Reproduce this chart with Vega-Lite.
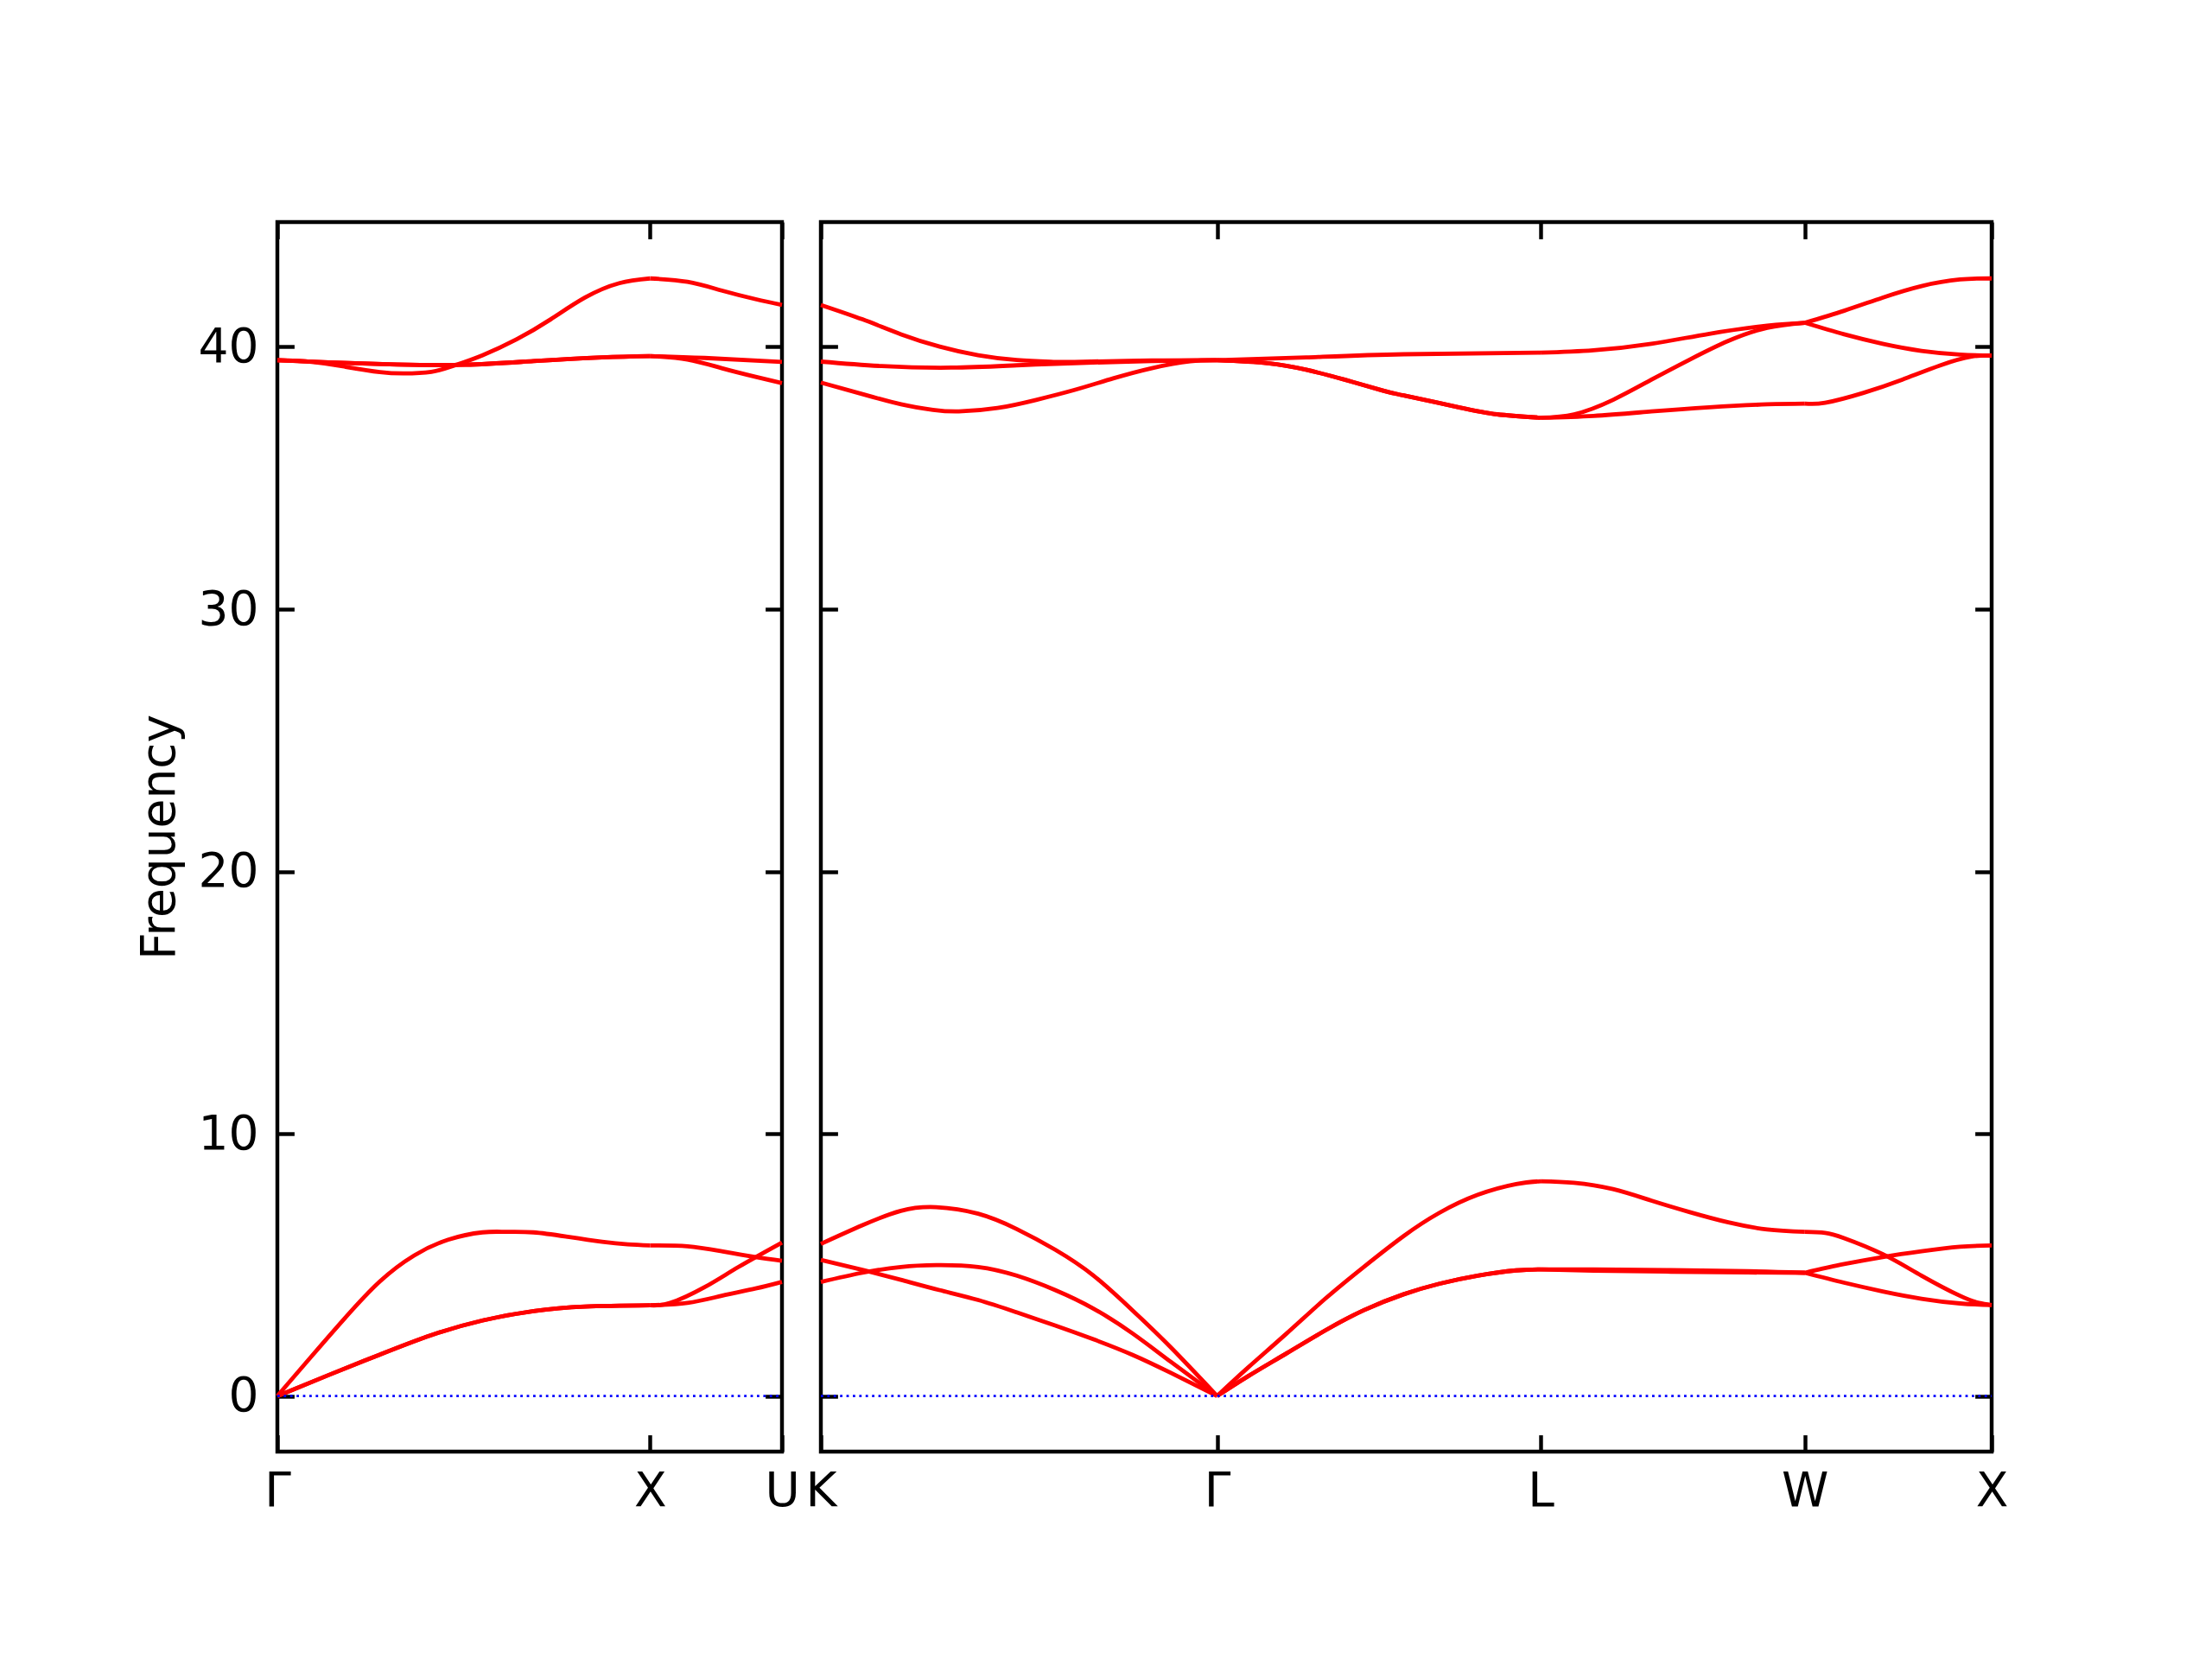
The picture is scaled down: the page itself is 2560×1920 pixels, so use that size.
{
  "$schema": "https://vega.github.io/schema/vega-lite/v6.json",
  "background": "white",
  "autosize": {"type": "pad"},
  "padding": {"left": 154, "top": 252, "right": 40, "bottom": 40},
  "bounds": "flush",
  "spacing": 45,
  "config": {
    "view": {"stroke": "black", "strokeWidth": 4.44},
    "axis": {
      "grid": false, "domain": false,
      "tickColor": "black", "tickWidth": 4.44, "tickSize": -19.4,
      "labelFont": "DejaVu Sans", "labelFontSize": 55, "labelColor": "black",
      "titleFont": "DejaVu Sans", "titleFontSize": 55, "titleFontWeight": "normal", "titleColor": "black",
      "labelFlush": false, "labelOverlap": false, "labelBound": false
    }
  },
  "datasets": {
    "left": [
      {"b":"GX_LA","k":0,"f":0},{"b":"GX_LA","k":0.092,"f":1.52},{"b":"GX_LA","k":0.183,"f":3.0},{"b":"GX_LA","k":0.275,"f":4.37},{"b":"GX_LA","k":0.367,"f":5.36},{"b":"GX_LA","k":0.458,"f":5.96},{"b":"GX_LA","k":0.55,"f":6.24},{"b":"GX_LA","k":0.614,"f":6.26},{"b":"GX_LA","k":0.687,"f":6.24},{"b":"GX_LA","k":0.779,"f":6.07},{"b":"GX_LA","k":0.871,"f":5.88},{"b":"GX_LA","k":0.94,"f":5.78},{"b":"GX_LA","k":1,"f":5.74},
      {"b":"GX_TA1","k":0,"f":0},{"b":"GX_TA1","k":0.1375,"f":0.8},{"b":"GX_TA1","k":0.275,"f":1.58},{"b":"GX_TA1","k":0.4125,"f":2.32},{"b":"GX_TA1","k":0.55,"f":2.88},{"b":"GX_TA1","k":0.6875,"f":3.24},{"b":"GX_TA1","k":0.825,"f":3.41},{"b":"GX_TA1","k":1,"f":3.46},
      {"b":"GX_TA2","k":0,"f":0},{"b":"GX_TA2","k":0.1375,"f":0.8},{"b":"GX_TA2","k":0.275,"f":1.58},{"b":"GX_TA2","k":0.4125,"f":2.32},{"b":"GX_TA2","k":0.55,"f":2.88},{"b":"GX_TA2","k":0.6875,"f":3.24},{"b":"GX_TA2","k":0.825,"f":3.41},{"b":"GX_TA2","k":1,"f":3.46},
      {"b":"GX_TO1","k":0,"f":39.49},{"b":"GX_TO1","k":0.1375,"f":39.41},{"b":"GX_TO1","k":0.321,"f":39.33},{"b":"GX_TO1","k":0.504,"f":39.32},{"b":"GX_TO1","k":0.687,"f":39.46},{"b":"GX_TO1","k":0.871,"f":39.6},{"b":"GX_TO1","k":1,"f":39.65},
      {"b":"GX_TO2","k":0,"f":39.49},{"b":"GX_TO2","k":0.1375,"f":39.41},{"b":"GX_TO2","k":0.321,"f":39.33},{"b":"GX_TO2","k":0.504,"f":39.32},{"b":"GX_TO2","k":0.687,"f":39.46},{"b":"GX_TO2","k":0.871,"f":39.6},{"b":"GX_TO2","k":1,"f":39.65},
      {"b":"GX_LO","k":0,"f":39.49},{"b":"GX_LO","k":0.092,"f":39.43},{"b":"GX_LO","k":0.183,"f":39.24},{"b":"GX_LO","k":0.275,"f":39.04},{"b":"GX_LO","k":0.339,"f":38.99},{"b":"GX_LO","k":0.413,"f":39.05},{"b":"GX_LO","k":0.477,"f":39.3},{"b":"GX_LO","k":0.55,"f":39.68},{"b":"GX_LO","k":0.642,"f":40.29},{"b":"GX_LO","k":0.733,"f":41.05},{"b":"GX_LO","k":0.825,"f":41.88},{"b":"GX_LO","k":0.917,"f":42.43},{"b":"GX_LO","k":1,"f":42.61},
      {"b":"XU_LA","k":1,"f":5.74},{"b":"XU_LA","k":1.1,"f":5.71},{"b":"XU_LA","k":1.192,"f":5.52},{"b":"XU_LA","k":1.283,"f":5.3},{"b":"XU_LA","k":1.3536,"f":5.16},
      {"b":"XU_TAu","k":1,"f":3.46},{"b":"XU_TAu","k":1.054,"f":3.55},{"b":"XU_TAu","k":1.146,"f":4.15},{"b":"XU_TAu","k":1.237,"f":4.92},{"b":"XU_TAu","k":1.3536,"f":5.85},
      {"b":"XU_TAl","k":1,"f":3.46},{"b":"XU_TAl","k":1.1,"f":3.55},{"b":"XU_TAl","k":1.192,"f":3.82},{"b":"XU_TAl","k":1.283,"f":4.1},{"b":"XU_TAl","k":1.3536,"f":4.35},
      {"b":"XU_TOu","k":1,"f":39.65},{"b":"XU_TOu","k":1.146,"f":39.58},{"b":"XU_TOu","k":1.3536,"f":39.43},
      {"b":"XU_TOl","k":1,"f":39.65},{"b":"XU_TOl","k":1.1,"f":39.52},{"b":"XU_TOl","k":1.192,"f":39.19},{"b":"XU_TOl","k":1.283,"f":38.86},{"b":"XU_TOl","k":1.3536,"f":38.62},
      {"b":"XU_LO","k":1,"f":42.61},{"b":"XU_LO","k":1.1,"f":42.48},{"b":"XU_LO","k":1.192,"f":42.15},{"b":"XU_LO","k":1.283,"f":41.82},{"b":"XU_LO","k":1.3536,"f":41.6}
    ],
    "right": [
      {"b":"KG_1","k":0,"f":5.8},{"b":"KG_1","k":0.111,"f":6.51},{"b":"KG_1","k":0.214,"f":7.06},{"b":"KG_1","k":0.309,"f":7.2},{"b":"KG_1","k":0.421,"f":6.95},{"b":"KG_1","k":0.524,"f":6.37},{"b":"KG_1","k":0.627,"f":5.58},{"b":"KG_1","k":0.73,"f":4.59},{"b":"KG_1","k":0.834,"f":3.27},{"b":"KG_1","k":0.937,"f":1.85},{"b":"KG_1","k":1.0607,"f":0},
      {"b":"KG_2","k":0,"f":4.35},{"b":"KG_2","k":0.111,"f":4.7},{"b":"KG_2","k":0.214,"f":4.92},{"b":"KG_2","k":0.309,"f":4.99},{"b":"KG_2","k":0.421,"f":4.92},{"b":"KG_2","k":0.524,"f":4.59},{"b":"KG_2","k":0.627,"f":4.04},{"b":"KG_2","k":0.73,"f":3.33},{"b":"KG_2","k":0.834,"f":2.39},{"b":"KG_2","k":0.937,"f":1.3},{"b":"KG_2","k":1.0607,"f":0},
      {"b":"KG_3","k":0,"f":5.19},{"b":"KG_3","k":0.111,"f":4.81},{"b":"KG_3","k":0.214,"f":4.43},{"b":"KG_3","k":0.317,"f":4.04},{"b":"KG_3","k":0.421,"f":3.66},{"b":"KG_3","k":0.524,"f":3.19},{"b":"KG_3","k":0.627,"f":2.69},{"b":"KG_3","k":0.73,"f":2.16},{"b":"KG_3","k":0.834,"f":1.57},{"b":"KG_3","k":0.937,"f":0.88},{"b":"KG_3","k":1.0607,"f":0},
      {"b":"KG_A","k":0,"f":41.6},{"b":"KG_A","k":0.1115,"f":41.05},{"b":"KG_A","k":0.2147,"f":40.48},{"b":"KG_A","k":0.318,"f":40.01},{"b":"KG_A","k":0.421,"f":39.68},{"b":"KG_A","k":0.5245,"f":39.5},{"b":"KG_A","k":0.628,"f":39.43},{"b":"KG_A","k":0.679,"f":39.43},{"b":"KG_A","k":0.886,"f":39.48},{"b":"KG_A","k":1.0607,"f":39.49},
      {"b":"KG_B","k":0,"f":39.44},{"b":"KG_B","k":0.1631,"f":39.27},{"b":"KG_B","k":0.349,"f":39.21},{"b":"KG_B","k":0.5245,"f":39.3},{"b":"KG_B","k":0.679,"f":39.38},{"b":"KG_B","k":0.886,"f":39.46},{"b":"KG_B","k":1.0607,"f":39.49},
      {"b":"KG_C","k":0,"f":38.64},{"b":"KG_C","k":0.1115,"f":38.2},{"b":"KG_C","k":0.2147,"f":37.81},{"b":"KG_C","k":0.3,"f":37.6},{"b":"KG_C","k":0.3696,"f":37.54},{"b":"KG_C","k":0.4729,"f":37.67},{"b":"KG_C","k":0.5761,"f":37.98},{"b":"KG_C","k":0.679,"f":38.36},{"b":"KG_C","k":0.7826,"f":38.8},{"b":"KG_C","k":0.886,"f":39.19},{"b":"KG_C","k":0.9891,"f":39.45},{"b":"KG_C","k":1.0607,"f":39.49},
      {"b":"GL_U1","k":1.0607,"f":39.49},{"b":"GL_U1","k":1.299,"f":39.6},{"b":"GL_U1","k":1.56,"f":39.72},{"b":"GL_U1","k":1.9267,"f":39.78},
      {"b":"GL_U2","k":1.0607,"f":39.49},{"b":"GL_U2","k":1.196,"f":39.38},{"b":"GL_U2","k":1.299,"f":39.13},{"b":"GL_U2","k":1.402,"f":38.75},{"b":"GL_U2","k":1.505,"f":38.33},{"b":"GL_U2","k":1.56,"f":38.15},{"b":"GL_U2","k":1.707,"f":37.7},{"b":"GL_U2","k":1.81,"f":37.43},{"b":"GL_U2","k":1.9267,"f":37.3},
      {"b":"GL_U3","k":1.0607,"f":39.49},{"b":"GL_U3","k":1.196,"f":39.38},{"b":"GL_U3","k":1.299,"f":39.13},{"b":"GL_U3","k":1.402,"f":38.75},{"b":"GL_U3","k":1.505,"f":38.33},{"b":"GL_U3","k":1.56,"f":38.15},{"b":"GL_U3","k":1.707,"f":37.7},{"b":"GL_U3","k":1.81,"f":37.43},{"b":"GL_U3","k":1.9267,"f":37.3},
      {"b":"GL_1","k":1.0607,"f":0},{"b":"GL_1","k":1.143,"f":1.08},{"b":"GL_1","k":1.247,"f":2.39},{"b":"GL_1","k":1.35,"f":3.71},{"b":"GL_1","k":1.453,"f":4.92},{"b":"GL_1","k":1.56,"f":6.1},{"b":"GL_1","k":1.655,"f":6.98},{"b":"GL_1","k":1.758,"f":7.67},{"b":"GL_1","k":1.861,"f":8.08},{"b":"GL_1","k":1.9267,"f":8.19},
      {"b":"GL_2","k":1.0607,"f":0},{"b":"GL_2","k":1.143,"f":0.75},{"b":"GL_2","k":1.247,"f":1.63},{"b":"GL_2","k":1.35,"f":2.5},{"b":"GL_2","k":1.453,"f":3.27},{"b":"GL_2","k":1.56,"f":3.88},{"b":"GL_2","k":1.655,"f":4.28},{"b":"GL_2","k":1.758,"f":4.59},{"b":"GL_2","k":1.861,"f":4.79},{"b":"GL_2","k":1.9267,"f":4.83},
      {"b":"GL_3","k":1.0607,"f":0},{"b":"GL_3","k":1.143,"f":0.75},{"b":"GL_3","k":1.247,"f":1.63},{"b":"GL_3","k":1.35,"f":2.5},{"b":"GL_3","k":1.453,"f":3.27},{"b":"GL_3","k":1.56,"f":3.88},{"b":"GL_3","k":1.655,"f":4.28},{"b":"GL_3","k":1.758,"f":4.59},{"b":"GL_3","k":1.861,"f":4.79},{"b":"GL_3","k":1.9267,"f":4.83},
      {"b":"LW_top","k":1.9267,"f":39.78},{"b":"LW_top","k":2.068,"f":39.87},{"b":"LW_top","k":2.223,"f":40.12},{"b":"LW_top","k":2.378,"f":40.5},{"b":"LW_top","k":2.533,"f":40.81},{"b":"LW_top","k":2.6338,"f":40.92},
      {"b":"LW_mid","k":1.9267,"f":37.3},{"b":"LW_mid","k":2.016,"f":37.43},{"b":"LW_mid","k":2.12,"f":37.98},{"b":"LW_mid","k":2.223,"f":38.75},{"b":"LW_mid","k":2.326,"f":39.52},{"b":"LW_mid","k":2.429,"f":40.23},{"b":"LW_mid","k":2.533,"f":40.73},{"b":"LW_mid","k":2.6338,"f":40.92},
      {"b":"LW_bot","k":1.9267,"f":37.3},{"b":"LW_bot","k":2.068,"f":37.37},{"b":"LW_bot","k":2.223,"f":37.54},{"b":"LW_bot","k":2.378,"f":37.7},{"b":"LW_bot","k":2.533,"f":37.81},{"b":"LW_bot","k":2.6338,"f":37.84},
      {"b":"LW_1","k":1.9267,"f":8.19},{"b":"LW_1","k":2.016,"f":8.13},{"b":"LW_1","k":2.12,"f":7.89},{"b":"LW_1","k":2.223,"f":7.45},{"b":"LW_1","k":2.326,"f":7.01},{"b":"LW_1","k":2.429,"f":6.62},{"b":"LW_1","k":2.533,"f":6.35},{"b":"LW_1","k":2.6338,"f":6.26},
      {"b":"LW_2","k":1.9267,"f":4.83},{"b":"LW_2","k":2.068,"f":4.83},{"b":"LW_2","k":2.2745,"f":4.8},{"b":"LW_2","k":2.481,"f":4.76},{"b":"LW_2","k":2.6338,"f":4.7},
      {"b":"LW_3","k":1.9267,"f":4.83},{"b":"LW_3","k":2.068,"f":4.78},{"b":"LW_3","k":2.2745,"f":4.74},{"b":"LW_3","k":2.481,"f":4.71},{"b":"LW_3","k":2.6338,"f":4.7},
      {"b":"WX_top","k":2.6338,"f":40.92},{"b":"WX_top","k":2.739,"f":41.38},{"b":"WX_top","k":2.842,"f":41.88},{"b":"WX_top","k":2.946,"f":42.32},{"b":"WX_top","k":3.049,"f":42.57},{"b":"WX_top","k":3.1338,"f":42.61},
      {"b":"WX_mid","k":2.6338,"f":40.92},{"b":"WX_mid","k":2.739,"f":40.48},{"b":"WX_mid","k":2.842,"f":40.12},{"b":"WX_mid","k":2.946,"f":39.85},{"b":"WX_mid","k":3.049,"f":39.71},{"b":"WX_mid","k":3.1338,"f":39.67},
      {"b":"WX_bot","k":2.6338,"f":37.84},{"b":"WX_bot","k":2.688,"f":37.87},{"b":"WX_bot","k":2.791,"f":38.25},{"b":"WX_bot","k":2.894,"f":38.75},{"b":"WX_bot","k":2.997,"f":39.3},{"b":"WX_bot","k":3.08,"f":39.63},{"b":"WX_bot","k":3.1338,"f":39.67},
      {"b":"WX_1","k":2.6338,"f":6.26},{"b":"WX_1","k":2.688,"f":6.22},{"b":"WX_1","k":2.739,"f":6.02},{"b":"WX_1","k":2.842,"f":5.41},{"b":"WX_1","k":2.946,"f":4.59},{"b":"WX_1","k":3.049,"f":3.82},{"b":"WX_1","k":3.1,"f":3.55},{"b":"WX_1","k":3.1338,"f":3.47},
      {"b":"WX_2","k":2.6338,"f":4.7},{"b":"WX_2","k":2.739,"f":5.03},{"b":"WX_2","k":2.842,"f":5.3},{"b":"WX_2","k":2.946,"f":5.52},{"b":"WX_2","k":3.049,"f":5.69},{"b":"WX_2","k":3.1338,"f":5.74},
      {"b":"WX_3","k":2.6338,"f":4.7},{"b":"WX_3","k":2.739,"f":4.32},{"b":"WX_3","k":2.842,"f":3.99},{"b":"WX_3","k":2.946,"f":3.71},{"b":"WX_3","k":3.049,"f":3.53},{"b":"WX_3","k":3.1338,"f":3.47}
    ]
  },
  "hconcat": [
    {
      "width": 584, "height": 1423,
      "data": {"name": "left"},
      "resolve": {"axis": {"x": "independent", "y": "independent"}},
      "layer": [
        {
          "mark": {"type": "line", "color": "#ff0000", "strokeWidth": 4.8, "interpolate": "natural"},
          "encoding": {
            "x": {"field": "k", "type": "quantitative", "scale": {"domain": [0, 1.3536], "nice": false, "zero": false},
                  "axis": {"orient": "bottom", "title": null, "values": [0, 1, 1.3536], "labelPadding": 39,
                           "labelExpr": "datum.value < 0.5 ? 'Γ' : (datum.value < 1.2 ? 'X' : 'U')"}},
            "y": {"field": "f", "type": "quantitative", "scale": {"domain": [-2.12, 44.76], "nice": false, "zero": false},
                  "axis": {"orient": "left", "title": "Frequency", "titlePadding": 16, "values": [0, 10, 20, 30, 40], "labelPadding": 41.4}},
            "detail": {"field": "b", "type": "nominal"}
          }
        },
        {
          "data": {"values": [{}]},
          "mark": {"type": "rule", "color": "#0000ff", "strokeWidth": 2.8, "strokeDash": [2.8, 4.6]},
          "encoding": {
            "x": {"datum": 0, "type": "quantitative", "axis": {"orient": "top", "title": null, "labels": false, "values": [0, 1, 1.3536]}},
            "x2": {"datum": 1.3536},
            "y": {"datum": 0, "type": "quantitative", "axis": {"orient": "right", "title": null, "labels": false, "values": [0, 10, 20, 30, 40]}}
          }
        }
      ]
    },
    {
      "width": 1355, "height": 1423,
      "data": {"name": "right"},
      "resolve": {"axis": {"x": "independent", "y": "independent"}},
      "layer": [
        {
          "mark": {"type": "line", "color": "#ff0000", "strokeWidth": 4.8, "interpolate": "natural"},
          "encoding": {
            "x": {"field": "k", "type": "quantitative", "scale": {"domain": [0, 3.1338], "nice": false, "zero": false},
                  "axis": {"orient": "bottom", "title": null, "values": [0, 1.0607, 1.9267, 2.6338, 3.1338], "labelPadding": 39,
                           "labelExpr": "datum.value < 0.5 ? 'K' : (datum.value < 1.5 ? 'Γ' : (datum.value < 2.3 ? 'L' : (datum.value < 2.9 ? 'W' : 'X')))"}},
            "y": {"field": "f", "type": "quantitative", "scale": {"domain": [-2.12, 44.76], "nice": false, "zero": false},
                  "axis": {"orient": "left", "title": null, "labels": false, "values": [0, 10, 20, 30, 40]}},
            "detail": {"field": "b", "type": "nominal"}
          }
        },
        {
          "data": {"values": [{}]},
          "mark": {"type": "rule", "color": "#0000ff", "strokeWidth": 2.8, "strokeDash": [2.8, 4.6]},
          "encoding": {
            "x": {"datum": 0, "type": "quantitative", "axis": {"orient": "top", "title": null, "labels": false, "values": [0, 1.0607, 1.9267, 2.6338, 3.1338]}},
            "x2": {"datum": 3.1338},
            "y": {"datum": 0, "type": "quantitative", "axis": {"orient": "right", "title": null, "labels": false, "values": [0, 10, 20, 30, 40]}}
          }
        }
      ]
    }
  ]
}
